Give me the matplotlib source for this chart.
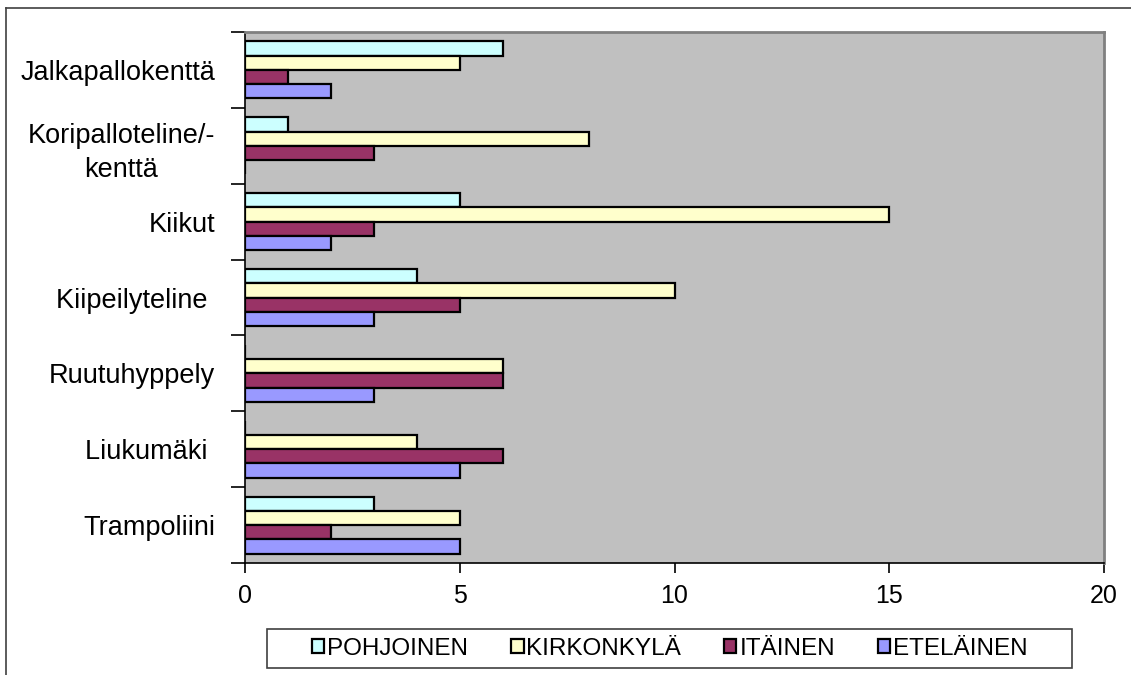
import matplotlib
matplotlib.use("Agg")
import matplotlib.pyplot as plt
from matplotlib.lines import Line2D
from matplotlib.patches import Rectangle

plt.rcParams["font.family"] = ["Liberation Sans", "DejaVu Sans"]

CATEGORIES = [
    "Jalkapallokenttä",
    "Koripalloteline/-\nkenttä",
    "Kiikut",
    "Kiipeilyteline ",
    "Ruutuhyppely",
    "Liukumäki ",
    "Trampoliini",
]
SERIES = ["POHJOINEN", "KIRKONKYLÄ", "ITÄINEN", "ETELÄINEN"]
POHJOINEN = [6, 1, 5, 4, 0, 0, 3]
KIRKONKYLA = [5, 8, 15, 10, 6, 4, 5]
ITAINEN = [1, 3, 3, 5, 6, 6, 2]
ETELAINEN = [2, 0, 2, 3, 3, 5, 5]
X_TICKS = [0, 5, 10, 15, 20]

COLORS = ["#CCFFFF", "#FFFFCC", "#993366", "#9999FF"]
W, H = 1131, 675


def fx(px):
    return px / W


def fy(py):
    return 1 - py / H


def main():
    fig = plt.figure(figsize=(W / 100, H / 100), dpi=100)
    # chart area border (top and left edges only show)
    fig.add_artist(Line2D([fx(6), 1], [fy(8), fy(8)], color="#404040", lw=1.2))
    fig.add_artist(Line2D([fx(6), fx(6)], [fy(8), 0], color="#404040", lw=1.2))

    ax = fig.add_axes([fx(245), fy(563), fx(1104) - fx(245), fy(32) - fy(563)])
    ax.set_facecolor("#C0C0C0")

    values = [POHJOINEN, KIRKONKYLA, ITAINEN, ETELAINEN]
    n = len(CATEGORIES)
    centers = [n - 1 - i for i in range(n)]
    h = 0.188
    offsets = [1.5 * h, 0.5 * h, -0.5 * h, -1.5 * h]
    handles = []
    for name, vals, color, off in zip(SERIES, values, COLORS, offsets):
        bars = ax.barh([c + off for c in centers], vals, height=h, color=color,
                       edgecolor="black", linewidth=1.6, label=name, zorder=3)
        handles.append(bars)

    ax.set_xlim(0, 20)
    ax.set_ylim(-0.5, n - 0.5)
    ax.set_xticks(X_TICKS)
    ax.set_xticklabels([str(t) for t in X_TICKS], fontsize=18)
    ax.tick_params(axis="x", direction="out", length=7, width=1.2, pad=8, color="black")

    # boundary ticks between categories, names sit on minor ticks at centres
    ax.set_yticks([k - 0.5 for k in range(n + 1)])
    ax.set_yticklabels([])
    ax.tick_params(axis="y", which="major", direction="out", length=10, width=1.2)
    ax.set_yticks(centers, minor=True)
    ax.set_yticklabels(CATEGORIES, minor=True, fontsize=19.5)
    ax.tick_params(axis="y", which="minor", length=0, pad=21.6)
    for lab in ax.get_yticklabels(minor=True):
        lab.set_multialignment("center")
        lab.set_linespacing(1.4)

    ax.spines["left"].set_color("black")
    ax.spines["bottom"].set_color("black")
    ax.spines["left"].set_linewidth(1.2)
    ax.spines["bottom"].set_linewidth(1.2)
    for side in ("top", "right"):
        ax.spines[side].set_color("#808080")
        ax.spines[side].set_linewidth(2.0)

    # legend frame drawn separately so its margins can be set freely
    fig.add_artist(Rectangle((fx(267), fy(668)), fx(1072) - fx(267), fy(629) - fy(668),
                             transform=fig.transFigure, facecolor="white",
                             edgecolor="#404040", linewidth=1.2))
    leg = fig.legend(handles=handles, loc="center", ncol=4, frameon=False,
                     bbox_to_anchor=(fx(670), fy(649)), fontsize=17.5,
                     handlelength=0.5, handleheight=0.5, handletextpad=0.12,
                     columnspacing=1.77, borderpad=0)
    leg.set_zorder(5)

    fig.savefig("out.png", dpi=100)
    plt.close(fig)


if __name__ == "__main__":
    main()
